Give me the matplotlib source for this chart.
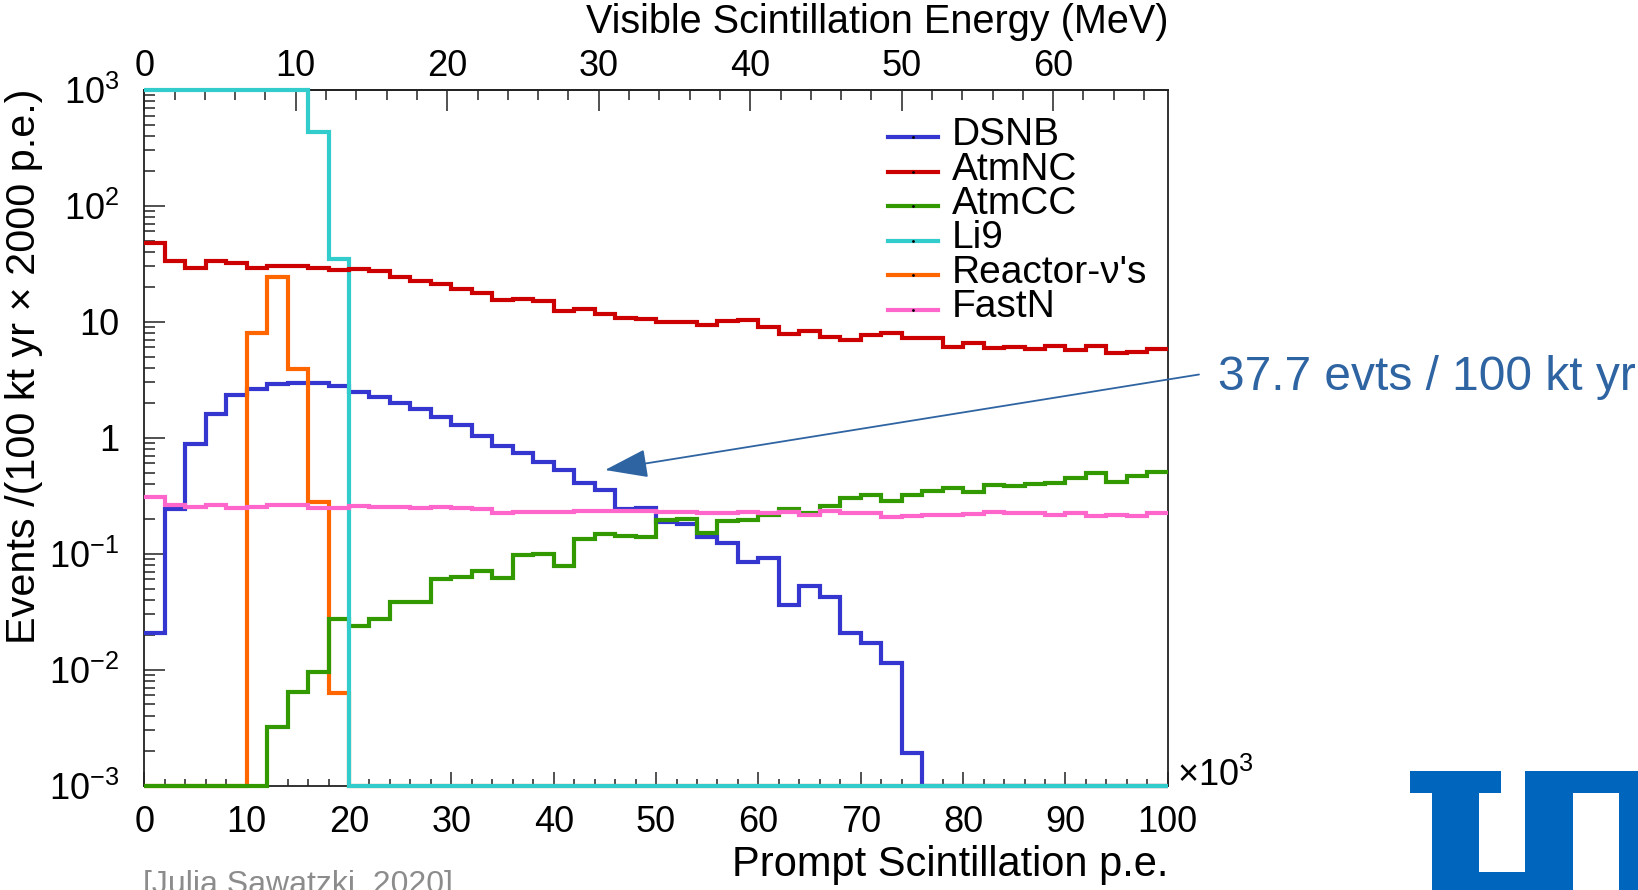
import numpy as np
import matplotlib
matplotlib.use("Agg")
import matplotlib.pyplot as plt
from matplotlib.patches import FancyArrowPatch, Rectangle
from matplotlib.lines import Line2D
from matplotlib.ticker import MultipleLocator, LogLocator, NullFormatter

plt.rcParams["font.family"] = ["Liberation Sans", "DejaVu Sans"]
plt.rcParams["mathtext.fontset"] = "custom"
plt.rcParams["mathtext.rm"] = "Liberation Sans"
plt.rcParams["mathtext.it"] = "Liberation Sans:italic"
plt.rcParams["mathtext.bf"] = "Liberation Sans:bold"

# bin edges in units of 10^3 p.e. (50 bins of 2000 p.e.)
bin_edges = np.arange(0, 102, 2)

# events per bin
dsnb = [0.0208, 0.244, 0.876, 1.59, 2.33, 2.63, 2.88, 2.96, 2.94, 2.81,
        2.49, 2.25, 1.98, 1.75, 1.52, 1.29, 1.03, 0.852, 0.733, 0.612,
        0.526, 0.404, 0.354, 0.243, 0.249, 0.188, 0.180, 0.138, 0.123, 0.0851,
        0.091, 0.036, 0.0529, 0.042, 0.0208, 0.0171, 0.0113, 0.0019, 0, 0,
        0, 0, 0, 0, 0, 0, 0, 0, 0, 0]
atm_nc = [47.5, 33.4, 29.2, 33.4, 32.3, 28.9, 30.2, 30.4, 28.9, 27.9,
          28.5, 27.6, 24.3, 22.4, 21.0, 19.0, 17.8, 15.4, 15.7, 15.0,
          12.3, 12.9, 11.6, 10.8, 10.6, 9.9, 9.9, 9.36, 10.2, 10.3,
          9.06, 7.84, 8.36, 7.43, 6.95, 7.72, 7.94, 7.19, 7.19, 6.09,
          6.59, 5.89, 6.09, 5.82, 6.17, 5.70, 6.17, 5.40, 5.45, 5.85]
atm_cc = [0, 0, 0, 0, 0, 0, 0.00318, 0.00637, 0.0096, 0.0273,
          0.0238, 0.0273, 0.0385, 0.0385, 0.060, 0.0632, 0.0712, 0.0619, 0.0972, 0.100,
          0.0787, 0.1327, 0.1475, 0.1427, 0.139, 0.195, 0.200, 0.1495, 0.192, 0.195,
          0.215, 0.243, 0.223, 0.258, 0.300, 0.320, 0.284, 0.320, 0.349, 0.366,
          0.338, 0.391, 0.386, 0.398, 0.403, 0.446, 0.492, 0.417, 0.467, 0.508]
li9 = [1500, 1500, 1500, 1500, 1500, 1500, 1500, 1500, 430, 34.7,
       0, 0, 0, 0, 0, 0, 0, 0, 0, 0,
       0, 0, 0, 0, 0, 0, 0, 0, 0, 0,
       0, 0, 0, 0, 0, 0, 0, 0, 0, 0,
       0, 0, 0, 0, 0, 0, 0, 0, 0, 0]
reactor = [0, 0, 0, 0, 0, 7.94, 24.4, 3.94, 0.281, 0.0063,
           0, 0, 0, 0, 0, 0, 0, 0, 0, 0,
           0, 0, 0, 0, 0, 0, 0, 0, 0, 0,
           0, 0, 0, 0, 0, 0, 0, 0, 0, 0,
           0, 0, 0, 0, 0, 0, 0, 0, 0, 0]
fast_n = [0.306, 0.261, 0.250, 0.264, 0.246, 0.252, 0.264, 0.264, 0.249, 0.249,
          0.257, 0.252, 0.250, 0.249, 0.252, 0.245, 0.241, 0.2255, 0.227, 0.227,
          0.227, 0.235, 0.232, 0.232, 0.232, 0.227, 0.229, 0.223, 0.223, 0.230,
          0.223, 0.227, 0.215, 0.234, 0.2255, 0.223, 0.208, 0.212, 0.215, 0.215,
          0.219, 0.227, 0.2255, 0.223, 0.215, 0.223, 0.211, 0.215, 0.211, 0.2255]

legend_names = ["DSNB", "AtmNC", "AtmCC", "Li9", "Reactor-ν's", "FastN"]
colors = {
    "DSNB": "#3535cf",
    "AtmNC": "#cc0000",
    "AtmCC": "#339900",
    "Li9": "#33cccc",
    "Reactor-ν's": "#ff6600",
    "FastN": "#ff66cc",
}
series = {
    "DSNB": dsnb, "AtmNC": atm_nc, "AtmCC": atm_cc,
    "Li9": li9, "Reactor-ν's": reactor, "FastN": fast_n,
}
draw_order = ["DSNB", "Reactor-ν's", "AtmCC", "Li9", "AtmNC", "FastN"]

x_major = [0, 10, 20, 30, 40, 50, 60, 70, 80, 90, 100]
x_labels = ["0", "10", "20", "30", "40", "50", "60", "70", "80", "90", "100"]
y_major = [1e-3, 1e-2, 1e-1, 1, 10, 1e2, 1e3]
y_labels = [r"$\mathregular{10^{-3}}$", r"$\mathregular{10^{-2}}$", r"$\mathregular{10^{-1}}$",
            "1", "10", r"$\mathregular{10^{2}}$", r"$\mathregular{10^{3}}$"]
mev_major = [0, 10, 20, 30, 40, 50, 60]
mev_labels = ["0", "10", "20", "30", "40", "50", "60"]
pe_per_mev = 1.48  # 10^3 p.e. per MeV

ymin, ymax = 1e-3, 1e3

W, H = 1638, 890


def fx(x):
    return x / W


def fy(y):
    return 1 - y / H


fig = plt.figure(figsize=(W / 100, H / 100), dpi=100)
ax = fig.add_axes([fx(144.3), fy(785.5), (1167.8 - 144.3) / W, (785.5 - 89.8) / H])

# histograms
for name in draw_order:
    vals = np.clip(np.asarray(series[name], dtype=float), ymin, ymax)
    ax.stairs(vals, bin_edges, baseline=None, color=colors[name], lw=3.0,
              zorder=3, clip_on=False)

ax.set_yscale("log")
ax.set_xlim(0, 100)
ax.set_yticks(y_major)
ax.set_yticklabels(y_labels)
ax.set_ylim(ymin, ymax)
ax.set_xticks(x_major)
ax.set_xticklabels(x_labels)
ax.xaxis.set_minor_locator(MultipleLocator(2))
ax.yaxis.set_minor_locator(LogLocator(base=10, subs=np.arange(2, 10), numticks=20))
ax.yaxis.set_minor_formatter(NullFormatter())

tick_col = "#222222"
ax.tick_params(axis="x", which="major", direction="in", length=10, width=1.1,
               labelsize=26, pad=14, top=False, color=tick_col)
ax.tick_params(axis="x", which="minor", direction="in", length=5, width=1.1,
               top=False, color=tick_col)
ax.tick_params(axis="y", which="major", direction="in", length=15, width=1.1,
               labelsize=26, pad=18, right=False, color=tick_col)
ax.tick_params(axis="y", which="minor", direction="in", length=8, width=1.1,
               right=False, color=tick_col)
for s in ax.spines.values():
    s.set_linewidth(1.3)
    s.set_color(tick_col)

# secondary energy axis on top
sec = ax.secondary_xaxis("top", functions=(lambda x: x / pe_per_mev,
                                            lambda m: m * pe_per_mev))
sec.set_xticks(mev_major)
sec.set_xticklabels(mev_labels)
sec.xaxis.set_minor_locator(MultipleLocator(2))
sec.tick_params(which="major", direction="in", length=15, width=1.1,
                labelsize=26, pad=4, color=tick_col)
sec.tick_params(which="minor", direction="in", length=7.2, width=1.1, color=tick_col)
sec.spines["top"].set_linewidth(1.3)
sec.spines["top"].set_color(tick_col)

# axis titles
fig.text(fx(1168.5), fy(876), "Prompt Scintillation p.e.", ha="right",
         va="baseline", fontsize=30)
fig.text(fx(1168.5), fy(33), "Visible Scintillation Energy (MeV)", ha="right",
         va="baseline", fontsize=28.5)
fig.text(fx(5), fy(89), "Events /(100 kt yr × 2000 p.e.)", rotation=90,
         ha="left", va="top", fontsize=29.8)
fig.text(fx(1177), fy(785.5), r"$\mathregular{×10^{3}}$", ha="left",
         va="baseline", fontsize=26)

# legend
for k, name in enumerate(legend_names):
    yk = 137.3 + 34.5 * k
    fig.add_artist(Line2D([fx(888), fx(938)], [fy(yk), fy(yk)],
                          transform=fig.transFigure, color=colors[name], lw=3.0))
    fig.add_artist(Line2D([fx(913)], [fy(yk)], transform=fig.transFigure,
                          marker=".", ms=2, color="black", lw=0))
    fig.text(fx(951.7), fy(yk + 7.7), name, fontsize=28, va="baseline")

# annotation
note_col = "#2f64a2"
fig.text(fx(1218), fy(390), "37.7 evts / 100 kt yr", color=note_col,
         fontsize=34.5, va="baseline")
arrow = FancyArrowPatch((fx(1199), fy(374.5)), (fx(605), fy(470)),
                        transform=fig.transFigure,
                        arrowstyle="-|>,head_length=2.7,head_width=0.9",
                        mutation_scale=10, color=note_col, lw=1.3,
                        shrinkA=0, shrinkB=0)
fig.add_artist(arrow)

# citation (cut by the lower edge, as in the slide)
fig.text(fx(143), fy(893), "[Julia Sawatzki, 2020]", color="#8c8c8c",
         fontsize=23, va="baseline")

# TUM logo
logo_col = "#0065bd"
logo_parts = [
    (1410, 771, 1500.7, 792.9),
    (1432, 771, 1478.7, 890),
    (1432, 871.9, 1572.7, 890),
    (1525.3, 771, 1638, 792.9),
    (1525.3, 771, 1572.7, 890),
    (1619.3, 771, 1638, 890),
]
for x0, y0, x1, y1 in logo_parts:
    fig.add_artist(Rectangle((fx(x0), fy(y1)), (x1 - x0) / W, (y1 - y0) / H,
                             transform=fig.transFigure, color=logo_col, lw=0))

fig.savefig("out.png", dpi=100)
